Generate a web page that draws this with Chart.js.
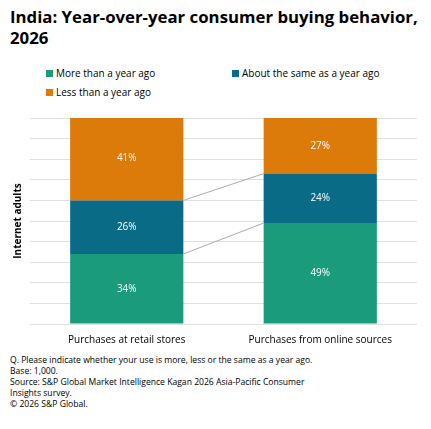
<!DOCTYPE html>
<html><head><meta charset="utf-8">
<script src="https://cdn.jsdelivr.net/npm/chart.js@4"></script>
<style>
body{margin:0;width:431px;height:429px;font-family:"Open Sans",sans-serif;color:#000;position:relative;background:#fff}
#t{position:absolute;left:10px;top:6px;font-size:16.8px;font-weight:bold;line-height:21px;width:420px}
.lg{position:absolute;font-size:10px;display:flex;align-items:center}
.lg i{display:inline-block;width:7px;height:7px;margin-right:3px}
#c{position:absolute;left:0;top:105px}
#f{position:absolute;left:10px;top:355px;font-size:8.6px;line-height:11px}
</style></head><body>
<div id="t">India: Year-over-year consumer buying behavior, 2026</div>
<div id="legend"></div>
<canvas id="c" width="431" height="243"></canvas>
<div id="f">Q. Please indicate whether your use is more, less or the same as a year ago.<br>Base: 1,000.<br>Source: S&amp;P Global Market Intelligence Kagan 2026 Asia-Pacific Consumer<br>Insights survey.<br>© 2026 S&amp;P Global.</div>
<script>
const categories=["Purchases at retail stores","Purchases from online sources"];
const seriesNames=["More than a year ago","About the same as a year ago","Less than a year ago"];
const more=[34,49];
const same=[26,24];
const less=[41,27];
const colors=["#1a9b7b","#0a6b86","#dc7a0a"];
const legendPos=[[46,66],[232,66],[46,85]];
const lg=document.getElementById('legend');
seriesNames.forEach((n,i)=>{const d=document.createElement('div');d.className='lg';d.style.left=legendPos[i][0]+'px';d.style.top=legendPos[i][1]+'px';d.innerHTML='<i style="background:'+colors[i]+'"></i>'+n;lg.appendChild(d);});
const connectors={id:'conn',afterDatasetsDraw(ch){const ctx=ch.ctx;ctx.save();ctx.strokeStyle='#aaa';ctx.lineWidth=1;
 [0,1].forEach(di=>{const m=ch.getDatasetMeta(di);const a=m.data[0],b=m.data[1];
 ctx.beginPath();ctx.moveTo(a.x+a.width/2,a.y);ctx.lineTo(b.x-b.width/2,b.y);ctx.stroke();});ctx.restore();}};
new Chart(document.getElementById('c'),{type:'bar',
data:{labels:categories,datasets:[more,same,less].map((d,i)=>({label:seriesNames[i],data:d,backgroundColor:colors[i],categoryPercentage:1,barPercentage:0.585}))},
options:{responsive:false,animation:false,layout:{padding:{left:8,right:14,top:13,bottom:0}},
plugins:{legend:{display:false},tooltip:{enabled:false}},
scales:{x:{stacked:true,grid:{display:false},border:{display:false},ticks:{color:'#000',font:{size:10,family:'Open Sans'},padding:2}},
y:{stacked:true,min:0,max:100,grid:{color:'#e0e0e0',drawTicks:false},border:{display:false},ticks:{display:false,stepSize:10},
title:{display:true,text:'Internet adults',color:'#000',font:{size:10,weight:'bold',family:'Open Sans'},padding:{bottom:6}}}}},
plugins:[connectors,{id:'lbl',afterDatasetsDraw(ch){const ctx=ch.ctx;ctx.save();ctx.fillStyle='#fff';ctx.font='10px Open Sans';ctx.textAlign='center';ctx.textBaseline='middle';
ch.data.datasets.forEach((ds,di)=>{ch.getDatasetMeta(di).data.forEach((el,j)=>{ctx.fillText(ds.data[j]+'%',el.x,(el.y+el.base)/2);});});ctx.restore();}}]
});
</script></body></html>
